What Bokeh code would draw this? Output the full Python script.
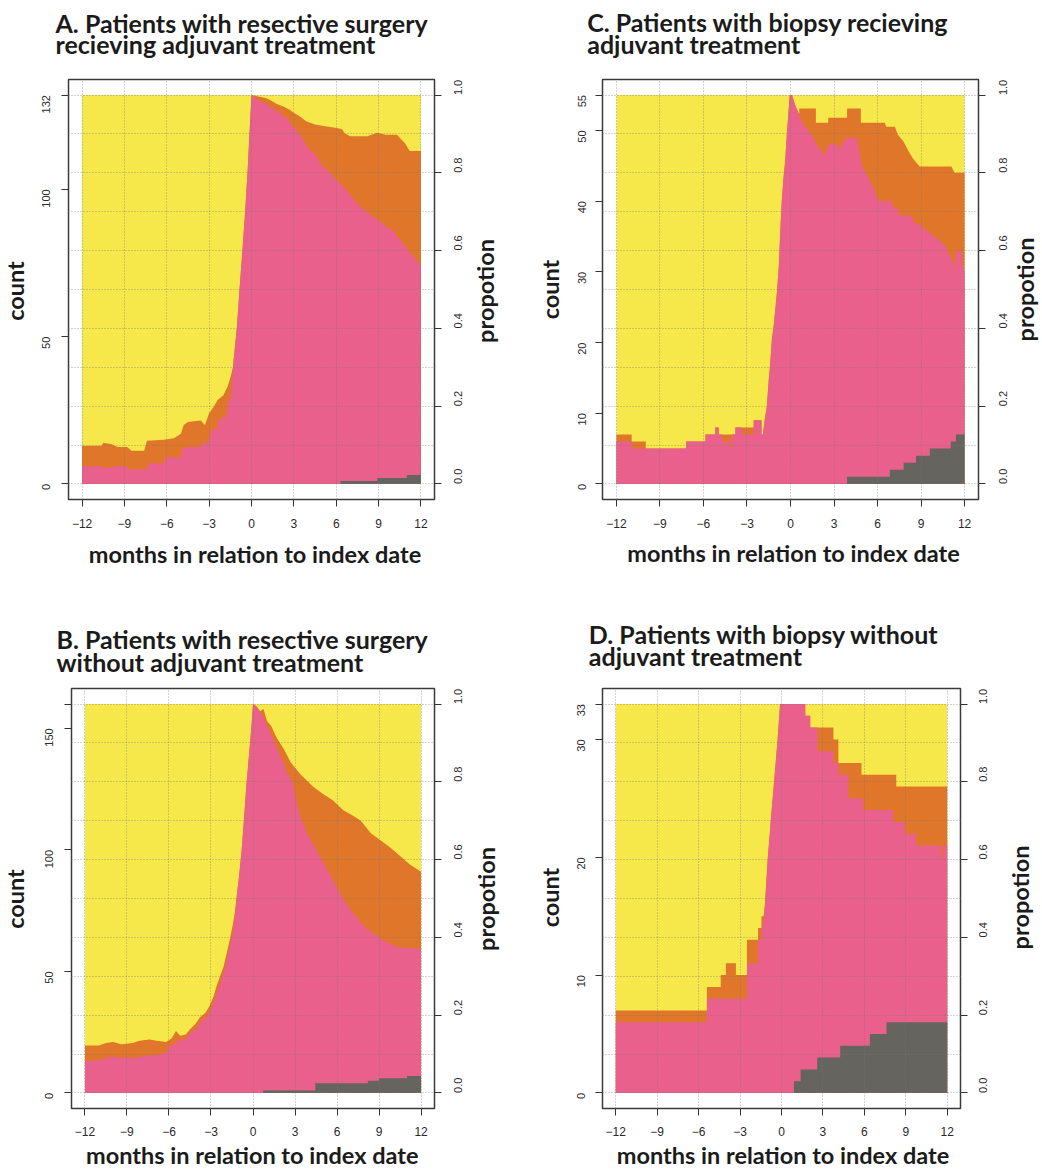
import math
from bokeh.plotting import figure
from bokeh.models import Range1d, LinearAxis, FixedTicker, PrintfTickFormatter, Label
from bokeh.layouts import column, row
from bokeh.embed import file_html
from bokeh.resources import INLINE

# ---------------- data (counts, cumulative stack boundaries) ----------------
x_ticks = [-12, -9, -6, -3, 0, 3, 6, 9, 12]
x_tick_labels = ["\u221212", "\u22129", "\u22126", "\u22123", "0", "3", "6", "9", "12"]
prop_ticks = [0.0, 0.2, 0.4, 0.6, 0.8, 1.0]
x_span = [-12, 12]

# Panel A
a_title = ["A. Patients with resective surgery", "recieving adjuvant treatment"]
a_total = 132
a_count_ticks = [0, 50, 100, 132]
a_gray_x = [-12, 6.3, 6.3, 8.9, 8.9, 11.0, 11.0, 12]
a_gray_y = [0, 0, 1, 1, 2, 2, 3, 3]
a_pink_x = [-12, -10.6, -10.5, -9.9, -9.8, -8.8, -8.7, -7.4, -7.3, -6.2, -6.1, -5.0, -4.9, -4.5, -3.6, -3.5, -3.0,
            -2.9, -2.4, -2.3, -1.75, -1.7, -1.45, -1.32, -1.04, -0.85, -0.64, -0.45, -0.28, -0.14, 0,
            0.3, 0.6, 1.0, 1.5, 2.0, 2.5, 3.0, 3.5, 4.0, 4.5, 5.0, 5.5, 6.0, 6.5, 7.0, 7.5, 8.0, 8.5, 9.0,
            9.5, 10.0, 10.5, 11.0, 11.5, 12]
a_pink_y = [6, 6, 5.5, 5.5, 6, 6, 5, 5, 7, 7, 9, 9, 12, 12.5, 12.5, 14, 14,
            18, 19, 22, 23, 27, 30, 39.5, 52.8, 66, 79.3, 92.5, 105.7, 119, 132,
            131, 130, 129, 127.5, 126, 124, 121, 118, 114, 112, 108, 106, 103, 101, 98, 95, 93, 91, 89.5,
            87.5, 86, 83, 80, 77, 74]
a_orange_x = [-12, -10.6, -10.5, -9.9, -9.5, -8.8, -8.5, -7.6, -7.4, -6.2, -5.5, -5.0, -4.8, -4.5, -3.6, -3.3,
              -3.0, -2.7, -2.4, -2.0, -1.7, -1.5, -1.32, -1.04, -0.85, -0.64, -0.45, -0.28, -0.14, 0,
              0.5, 1.0, 1.35, 1.8, 2.3, 2.7, 3.0, 3.5, 3.9, 4.5, 5.1, 5.8, 6.4, 6.6, 7.0, 8.2, 8.9, 9.5,
              10.3, 10.6, 10.9, 11.2, 12]
a_orange_y = [13, 13, 14, 13.5, 12.5, 12.5, 11.3, 11.3, 14.7, 15, 15.5, 17, 20, 21, 21.5, 20,
              24, 26, 28.5, 30, 33, 36, 39.5, 52.8, 66, 79.3, 92.5, 105.7, 119, 132,
              131.5, 131, 130.2, 129, 128, 127, 126, 124.5, 123, 122, 121.5, 121, 120.5, 119, 118, 118, 119.2, 118.5,
              118.5, 117, 115.5, 113, 113]

# Panel C
c_title = ["C. Patients with biopsy recieving", "adjuvant treatment"]
c_total = 55
c_count_ticks = [0, 10, 20, 30, 40, 50, 55]
c_gray_x = [-12, 3.9, 3.9, 6.85, 6.85, 7.8, 7.8, 8.65, 8.65, 9.6, 9.6, 11.05, 11.05, 11.4, 11.4, 12]
c_gray_y = [0, 0, 1, 1, 2, 2, 3, 3, 4, 4, 5, 5, 6, 6, 7, 7]
c_ramp_x = [-1.78, -1.63, -1.5, -1.4, -1.28, -1.15, -0.94, -0.8, -0.7, -0.6, -0.48, -0.37, -0.25, -0.05,
            0.1, 0.32]
c_ramp_y = [9, 11, 14.7, 17, 20.5, 22.5, 27, 31, 36, 40, 43.3, 45.6, 49.5, 55,
            55, 53.6]
c_pink_x = ([-12, -10.95, -10.95, -7.2, -7.2, -5.86, -5.86, -5.18, -5.18, -4.95, -4.95, -4.72, -4.72, -4.15,
             -4.15, -4.05, -4.05, -3.8, -3.8, -3.34, -3.34, -2.54, -2.54, -2.0, -2.0, -1.9] + c_ramp_x +
            [0.78, 1.2, 1.47, 1.8, 2.15, 2.27, 2.45, 2.6, 3.3, 3.4, 3.55, 3.9, 4.56, 4.7, 4.9, 5.36,
             5.8, 6.05, 7.0, 7.1, 7.4, 7.5, 8.3, 8.5, 8.9, 9.3, 9.7, 10.2, 10.6, 10.9, 11.2, 11.3, 11.4, 11.8,
             11.85, 12])
c_pink_y = ([6, 6, 5, 5, 6, 6, 7, 7, 8, 8, 7, 7, 6, 6,
             5, 5, 7, 7, 8, 8, 7, 7, 9, 9, 7, 7] + c_ramp_y +
            [51.2, 50, 49.4, 48, 47, 46.3, 47, 48, 48, 47, 48, 49, 49, 47.5, 45.1, 43.3,
             41.4, 40, 40, 39, 39, 38, 38, 37, 36.7, 36, 35.3, 34.5, 33.9, 32.5, 31.5, 30, 32.9, 32.9,
             31, 30])
c_orange_x = ([-12, -10.95, -10.95, -9.98, -9.98, -7.2, -7.2, -5.86, -5.86, -5.18, -5.18, -4.95, -4.95, -4.03,
               -3.8, -3.8, -2.54, -2.54, -2.0, -2.0, -1.9] + c_ramp_x +
              [0.6, 0.6, 1.75, 1.75, 2.6, 2.6, 3.9, 3.9, 4.85, 4.85, 6.5, 6.6, 7.2, 7.4, 7.8, 8.1, 8.45, 8.9,
               11.1, 11.3, 12])
c_orange_y = ([7, 7, 6, 6, 5, 5, 6, 6, 7, 7, 8, 8, 7, 7,
               7, 8, 8, 9, 9, 7, 7] + c_ramp_y +
              [52.3, 53.1, 53.1, 51.1, 51.1, 51.8, 51.8, 53.1, 53.1, 51.1, 51.1, 50.5, 50.5, 49.4, 48.4, 47.2, 46, 44.9,
               44.9, 44, 44])

# Panel B
b_title = ["B. Patients with resective surgery", "without adjuvant treatment"]
b_total = 160
b_count_ticks = [0, 50, 100, 150, 160]
b_gray_x = [-12, 0.72, 0.72, 4.45, 4.45, 8.2, 8.2, 9.0, 9.0, 11.0, 11.0, 12]
b_gray_y = [0, 0, 1, 1, 4, 4, 5, 5, 6, 6, 7, 7]
b_ramp_x = [-1.19, -1.0, -0.83, -0.65, -0.48, -0.36, -0.24, -0.12, 0, 0.25, 0.5]
b_ramp_y = [79.5, 89, 98.6, 112, 126, 134, 142, 150, 160, 159, 157]
b_pink_x = ([-12, -11, -10.7, -10.1, -9.5, -8.3, -7.4, -6.9, -6.2, -6.0, -5.6, -5.2, -4.8, -4.5, -4.1, -3.8,
             -3.4, -3.1, -2.8, -2.6, -2.35, -2.1, -1.9, -1.66, -1.4] + b_ramp_x +
            [0.8, 1.1, 1.5, 2.0, 2.4, 2.8, 3.1, 3.35, 3.85, 4.5, 5.2, 5.8, 6.5, 7.2, 7.9, 8.6, 9.3,
             10.0, 10.6, 12])
b_pink_y = ([13, 13.5, 14, 15, 14.5, 14.5, 15.5, 15.5, 16.5, 19, 20, 22, 22, 24.8, 26, 29,
             31, 33, 37, 41, 45, 49.4, 54, 60, 67] + b_ramp_y +
            [154, 150, 144.5, 138, 132, 128, 120, 114, 107, 100, 93, 86.5, 79.3, 73.5, 68.8, 65.5, 62.8,
             60.8, 59.8, 59.3])
b_orange_x = ([-12, -11, -10.5, -10, -9.4, -8.6, -8.1, -7.4, -6.9, -6.2, -5.8, -5.5, -5.2, -4.8, -4.5, -4.1,
               -3.8, -3.4, -3.1, -2.8, -2.6, -2.35, -2.1, -1.9, -1.66, -1.45, -1.3] + b_ramp_x +
              [0.75, 1.0, 1.3, 1.7, 2.2, 2.7, 3.4, 4.3, 5.0, 5.7, 6.45, 7.15, 7.7, 8.4, 9.1, 9.8, 10.5, 11.2, 12])
b_orange_y = ([19.5, 19.5, 20.5, 21, 20, 20.5, 21.5, 22, 21.5, 21, 22.5, 25.5, 23.5, 24, 26.2, 28.5,
               31, 33, 35.8, 40, 44, 48, 52, 57, 63, 69, 74] + b_ramp_y +
              [158, 153, 151, 146, 141.5, 136, 131, 126, 123, 120.4, 116.3, 114, 112, 107, 104, 101, 97.5, 94, 91])

# Panel D
d_title = ["D. Patients with biopsy without", "adjuvant treatment"]
d_total = 33
d_count_ticks = [0, 10, 20, 30, 33]
d_gray_x = [-12, 0.9, 0.9, 1.38, 1.38, 2.58, 2.58, 4.25, 4.25, 6.4, 6.4, 7.6, 7.6, 12]
d_gray_y = [0, 0, 1, 1, 2, 2, 3, 3, 4, 4, 5, 5, 6, 6]
d_ramp_x = [-1.2, -1.0, -0.77, -0.53, -0.29, -0.1, 1.72, 1.72, 2.08, 2.08]
d_ramp_y = [16, 19.8, 23.2, 26.5, 29.9, 33, 33, 32, 32, 31]
d_pink_x = ([-12, -5.4, -5.4, -2.5, -2.5, -1.7, -1.7, -1.45, -1.45, -1.3] + d_ramp_x +
            [2.6, 2.6, 3.76, 3.76, 4.12, 4.12, 4.84, 4.84, 5.91, 5.91, 8.07, 8.07, 8.9, 8.9, 9.74, 9.74,
             11.55, 11.55, 11.7, 11.7, 12])
d_pink_y = ([6, 6, 8, 8, 11, 11, 13, 13, 14, 14.5] + d_ramp_y +
            [31, 29, 29, 28, 28, 27, 27, 25, 25, 24, 24, 23, 23, 22, 22, 21,
             21, 20, 20, 21, 21])
d_orange_x = ([-12, -5.4, -5.4, -4.4, -4.4, -4.03, -4.03, -3.3, -3.3, -2.5, -2.5, -1.7, -1.7, -1.45, -1.45,
               -1.3] + d_ramp_x +
              [3.76, 3.76, 4.12, 4.12, 5.79, 5.79, 8.31, 8.31, 12])
d_orange_y = ([7, 7, 9, 9, 10, 10, 11, 11, 10, 10, 13, 13, 14, 14, 15,
               15] + d_ramp_y +
              [31, 30, 30, 28, 28, 27, 27, 26, 26])

# ---------------- style ----------------
YELLOW = "#F6E84A"
ORANGE = "#DF762A"
PINK = "#E9608C"
GRAY = "#65645F"
TEXT = "#1b1b1b"
BOLD_FONT = "Lato"
TICK_FONT = "Liberation Sans"
# compensation of how the browser places the alphabetic baseline of canvas labels
H_SHIFT = 8
V_SHIFT = 11


def bold_label(text, x, y, size, align="left", angle=0.0):
    if angle:
        x = x - V_SHIFT
    else:
        y = y - H_SHIFT
    return Label(x=x, y=y, x_units="canvas", y_units="canvas", text=text, angle=angle,
                 text_font=BOLD_FONT, text_font_style="bold", text_font_size=size,
                 text_color=TEXT, text_align=align, text_baseline="alphabetic")


def make_panel(title, total, count_ticks, hidden, gray, pink, orange, geom, txt, standoffs):
    width, height, bl, br, bt, bb = geom
    fh = height - bt - bb
    pad = 0.04 * 24
    p = figure(width=width, height=height, output_backend="svg", toolbar_location=None,
               x_range=Range1d(-12 - pad, 12 + pad),
               y_range=Range1d(-0.04 * total, 1.04 * total),
               min_border_left=bl, min_border_right=br, min_border_top=bt, min_border_bottom=bb)
    p.extra_y_ranges = {"prop": Range1d(-0.04, 1.04)}
    p.background_fill_color = "white"
    p.border_fill_color = "white"
    p.outline_line_color = "#3a3a3a"
    p.outline_line_width = 1.5

    # stacked layers (drawn back to front)
    p.varea(x=x_span, y1=0, y2=[total, total], fill_color=YELLOW)
    p.varea(x=orange[0], y1=0, y2=orange[1], fill_color=ORANGE)
    p.varea(x=pink[0], y1=0, y2=pink[1], fill_color=PINK)
    p.varea(x=gray[0], y1=0, y2=gray[1], fill_color=GRAY)

    # grid (dotted, drawn over the areas)
    p.xgrid.ticker = FixedTicker(ticks=x_ticks)
    p.ygrid.ticker = FixedTicker(ticks=[total * t / 10 for t in range(11)])
    for g in (p.xgrid[0], p.ygrid[0]):
        g.grid_line_color = "#7a7a7a"
        g.grid_line_alpha = 0.65
        g.grid_line_dash = "1 2"
        g.grid_line_width = 1
        g.level = "overlay"

    def style_axis(ax, size, standoff):
        ax.axis_line_color = None
        ax.major_tick_out = 7
        ax.major_tick_in = 0
        ax.minor_tick_out = 0
        ax.minor_tick_in = 0
        ax.major_tick_line_color = "#333333"
        ax.major_tick_line_width = 1
        ax.major_label_text_font = TICK_FONT
        ax.major_label_text_font_size = size
        ax.major_label_text_color = "#2a2a2a"
        ax.major_label_standoff = standoff

    s_bottom, s_left, s_right = standoffs
    xa = p.xaxis[0]
    xa.ticker = FixedTicker(ticks=x_ticks)
    xa.major_label_overrides = {t: l for t, l in zip(x_ticks, x_tick_labels)}
    style_axis(xa, "12px", s_bottom)

    ya = p.yaxis[0]
    ya.ticker = FixedTicker(ticks=count_ticks)
    ya.major_label_overrides = {t: ("" if t in hidden else str(t)) for t in count_ticks}
    ya.major_label_orientation = math.pi / 2
    style_axis(ya, "11px", s_left)

    ra = LinearAxis(y_range_name="prop", ticker=FixedTicker(ticks=prop_ticks),
                    formatter=PrintfTickFormatter(format="%.1f"))
    style_axis(ra, "11px", s_right)
    ra.major_label_orientation = math.pi / 2
    p.add_layout(ra, "right")

    # texts in side panels (canvas coordinates, not clipped to the frame)
    tx, ty1, ty2, xcx, xcy, cx, px = txt
    p.add_layout(bold_label(title[1], tx, ty2, "25px"), "above")
    p.add_layout(bold_label(title[0], tx, ty1, "25px"), "above")
    p.add_layout(bold_label("months in relation to index date", xcx, xcy, "23.5px", "center"), "below")
    midy = bt + fh / 2
    p.add_layout(bold_label("count", cx, midy, "23.5px", "center", math.pi / 2), "left")
    p.add_layout(bold_label("propotion", px, midy, "23.5px", "center", math.pi / 2), "right")
    return p


pA = make_panel(a_title, a_total, a_count_ticks, [],
                (a_gray_x, a_gray_y), (a_pink_x, a_pink_y), (a_orange_x, a_orange_y),
                (520, 600, 68, 86, 78, 97), (55, 30, 51.7, 254.5, 561.7, 25, 495), (12, 15, 17))
pC = make_panel(c_title, c_total, c_count_ticks, [],
                (c_gray_x, c_gray_y), (c_pink_x, c_pink_y), (c_orange_x, c_orange_y),
                (522, 600, 82, 60, 79, 101), (66.7, 29.3, 51, 273, 560, 40, 515), (12, 13, 18))
pB = make_panel(b_title, b_total, b_count_ticks, [160],
                (b_gray_x, b_gray_y), (b_pink_x, b_pink_y), (b_orange_x, b_orange_y),
                (520, 570, 71, 86, 88, 61), (56, 46.7, 69, 251.7, 562, 25, 496), (11, 15, 17))
pD = make_panel(d_title, d_total, d_count_ticks, [],
                (d_gray_x, d_gray_y), (d_pink_x, d_pink_y), (d_orange_x, d_orange_y),
                (522, 570, 82, 82, 86, 62), (68.3, 41.7, 63.3, 262.5, 562, 40, 510), (11, 14, 16))

layout = column(row(pA, pC), row(pB, pD))
open("out.html", "w").write(file_html(layout, INLINE))
